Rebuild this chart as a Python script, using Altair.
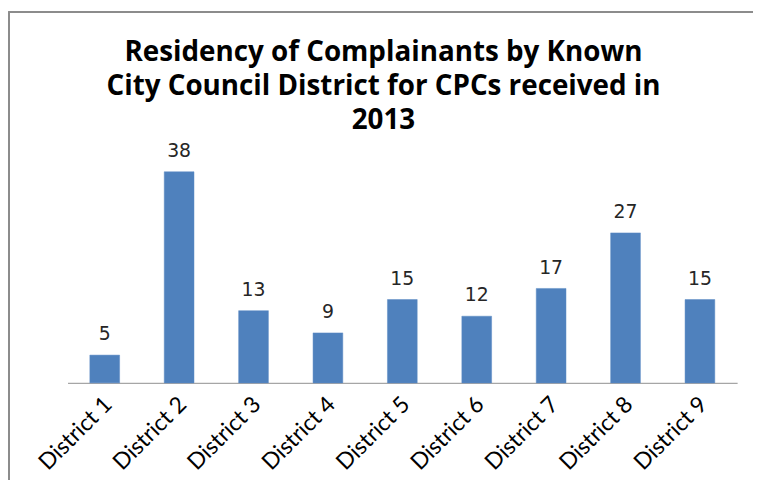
import altair as alt
import pandas as pd

districts = ["District 1", "District 2", "District 3", "District 4", "District 5",
             "District 6", "District 7", "District 8", "District 9"]
counts = [5, 38, 13, 9, 15, 12, 17, 27, 15]
title_lines = ["Residency of Complainants by Known",
               "City Council District for CPCs received in",
               "2013"]

df = pd.DataFrame({"district": districts, "count": counts})

x_enc = alt.X("district:N", sort=districts,
              scale=alt.Scale(paddingInner=0.6, paddingOuter=0.3),
              axis=alt.Axis(title=None, labelAngle=315, labelFontSize=23,
                            labelFont="Lato", labelColor="#000000",
                            labelAlign="right", labelBaseline="top",
                            labelPadding=10, labelOffset=-4, ticks=False,
                            domainColor="#a6a6a6", domainWidth=1.5))
y_enc = alt.Y("count:Q", scale=alt.Scale(domain=[0, 40]), axis=None)

bars = alt.Chart(df).mark_bar(color="#4F81BD", stroke="#5b8ac3", strokeWidth=0.5).encode(
    x=x_enc, y=y_enc)

labels = alt.Chart(df).mark_text(dy=-11, fontSize=19, font="DejaVu Sans",
                                 color="#262626", baseline="bottom").encode(
    x=alt.X("district:N", sort=districts), y=y_enc, text="count:Q")

border_top = alt.Chart(df).mark_rule(color="#8c8c8c", strokeWidth=2).encode(
    x=alt.value(-59), x2=alt.value(700), y=alt.value(-150))
border_left = alt.Chart(df).mark_rule(color="#8c8c8c", strokeWidth=2).encode(
    x=alt.value(-59), y=alt.value(-150), y2=alt.value(330))

chart = alt.layer(border_top, border_left, bars, labels).properties(
    width=675, height=224,
    autosize=alt.AutoSizeParams(type="none"),
    padding={"left": 60, "top": 152, "right": 16, "bottom": 96},
    title=alt.TitleParams(text=title_lines, fontSize=28, font="Open Sans",
                          fontWeight="bold", color="#000000", anchor="middle",
                          baseline="top", dx=-19, offset=-125, lineHeight=34),
).configure_view(stroke=None)

chart.save("out.html", embed_options={"renderer": "svg", "actions": False})
